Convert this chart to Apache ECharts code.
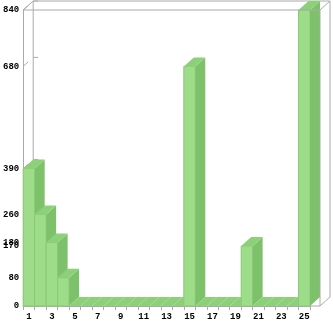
<!DOCTYPE html>
<html><head><meta charset="utf-8">
<script src="https://cdn.jsdelivr.net/npm/echarts@6/dist/echarts.min.js"></script>
<style>html,body{margin:0;padding:0;background:#fff}#c{width:333px;height:321px}</style>
</head><body><div id="c"></div>
<script>
const categories = ['1','2','3','4','5','6','7','8','9','10','11','12','13','14','15','16','17','18','19','20','21','22','23','24','25'];
const values = [390, 260, 180, 80, 0, 0, 0, 0, 0, 0, 0, 0, 0, 0, 680, 0, 0, 0, 0, 170, 0, 0, 0, 0, 840];
const yTicks = [0, 80, 170, 180, 260, 390, 680, 840];

const DX = 10, DY = -9;
const FRONT = '#9ddc89', SIDE = '#7dc26a', TOP = '#8dd07a', EDGE = '#8cc979';
const FRAME = '#aaaaaa';
const FONT = 'Liberation Mono';

const chart = echarts.init(document.getElementById('c'), null, {renderer: 'canvas'});

function renderBar(params, api) {
  const idx = api.value(0), v = api.value(1);
  const top = api.coord([idx, v]);
  const bot = api.coord([idx, 0]);
  const w = api.size([1, 0])[0];
  const x0 = top[0] - w / 2, x1 = x0 + w;
  const yt = top[1], yb = bot[1];
  const children = [];
  if (yb - yt > 0) {
    children.push({type: 'rect', shape: {x: x0, y: yt, width: w, height: yb - yt},
      style: {fill: FRONT, stroke: EDGE, lineWidth: 1}});
    children.push({type: 'polygon', shape: {points: [[x1, yt], [x1 + DX, yt + DY], [x1 + DX, yb + DY], [x1, yb]]},
      style: {fill: SIDE}});
  }
  children.push({type: 'polygon', shape: {points: [[x0, yt], [x0 + DX, yt + DY], [x1 + DX, yt + DY], [x1, yt]]},
    style: {fill: TOP}});
  return {type: 'group', children};
}

function renderBack(params, api) {
  const cs = params.coordSys;
  const L = cs.x, T = cs.y, R = cs.x + cs.width, B = cs.y + cs.height;
  const ln = (a, b) => ({type: 'line', shape: {x1: a[0], y1: a[1], x2: b[0], y2: b[1]}, style: {stroke: FRAME, lineWidth: 1}});
  const children = [
    ln([L + DX, T + DY], [R + 2 * DX, T + DY]),
    ln([L + DX, T + DY], [L + DX, B + DY]),
    ln([R + 2 * DX, T + DY], [R + 2 * DX, B + DY]),
    ln([L, T], [L + DX, T + DY])
  ];
  yTicks.forEach(t => {
    const p = api.coord([0, t]);
    const y = p[1];
    children.push(ln([L, y], [L + DX / 2, y + DY / 2]));
    children.push(ln([L + DX, y + DY], [L + DX + 5, y + DY]));
  });
  return {type: 'group', children};
}

function renderFront(params, api) {
  const cs = params.coordSys;
  const L = cs.x, T = cs.y, R = cs.x + cs.width, B = cs.y + cs.height;
  const ln = (a, b) => ({type: 'line', shape: {x1: a[0], y1: a[1], x2: b[0], y2: b[1]}, style: {stroke: FRAME, lineWidth: 1}});
  return {type: 'group', children: [
    ln([L, T], [R + DX, T]),
    ln([R + DX, T], [R + DX, B]),
    ln([R, B], [R + DX, B]),
    ln([R + DX, T], [R + 2 * DX, T + DY]),
    ln([R + DX, B], [R + 2 * DX, B + DY])
  ]};
}

chart.setOption({
  animation: false,
  grid: {left: 22, top: 10, right: 23, bottom: 13, containLabel: false},
  xAxis: {
    type: 'category', data: categories, boundaryGap: true,
    axisLine: {show: true, lineStyle: {color: FRAME, width: 1}},
    axisTick: {show: true, length: 4, alignWithLabel: false, interval: 0, lineStyle: {color: FRAME}},
    axisLabel: {interval: 1, color: '#000', fontFamily: FONT, fontSize: 9, fontWeight: 'bold', margin: 6}
  },
  yAxis: {
    type: 'value', min: 0, max: 840,
    axisLine: {show: true, lineStyle: {color: FRAME, width: 1}},
    axisTick: {show: false},
    splitLine: {show: false},
    axisLabel: {customValues: yTicks, color: '#000', fontFamily: FONT, fontSize: 9, fontWeight: 'bold', margin: 4}
  },
  series: [
    {type: 'custom', renderItem: renderBack, data: [[0, 0]], clip: false, z: 1, silent: true},
    {type: 'custom', renderItem: renderBar, data: values.map((v, i) => [i, v]), clip: false, z: 2},
    {type: 'custom', renderItem: renderFront, data: [[0, 0]], clip: false, z: 3, silent: true}
  ]
});
</script></body></html>
